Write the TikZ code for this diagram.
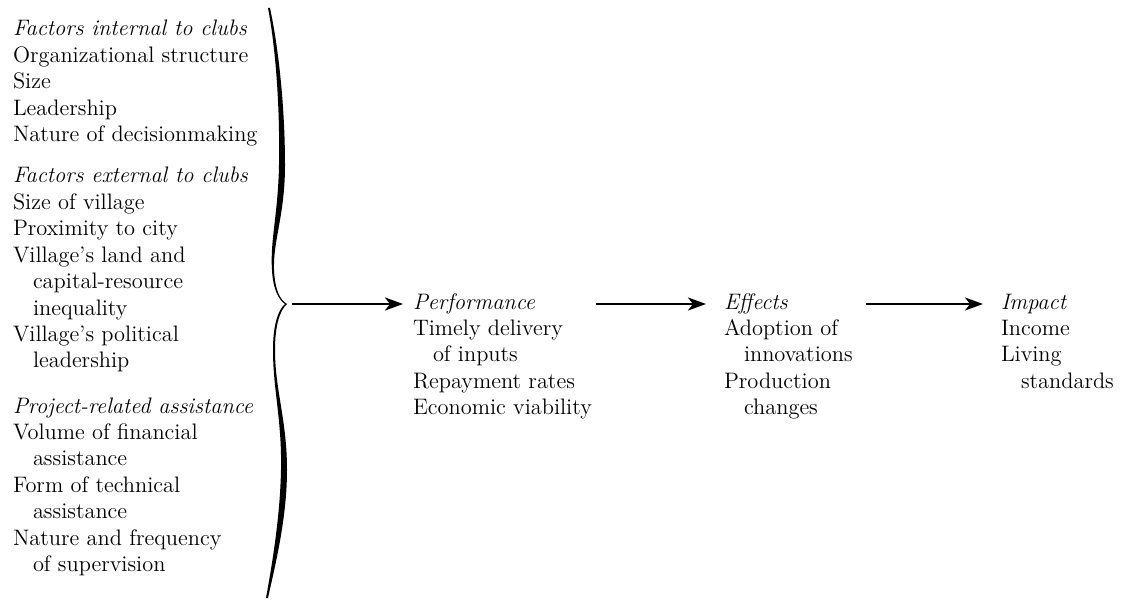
\documentclass[tikz,border=0pt]{standalone}
\usetikzlibrary{arrows.meta}
\tikzset{
    item/.style={
        anchor=base west,
        inner sep=0pt,
        outer sep=0pt,
        font=\fontsize{11.2}{13.2}\selectfont
    },
    head/.style={item,font=\fontsize{11.2}{13.2}\selectfont\itshape},
    flow/.style={line width=1.3pt,-{Stealth[length=9pt,width=6.5pt,inset=2.5pt]}},
    x=0.5pt,
    y=-0.5pt
}

\begin{document}
\begin{tikzpicture}
    \useasboundingbox (0,0) rectangle (1122,604);
    % factors on the left
    \foreach \s/\y/\dx/\t [count=\i] in {
        head/36/0/Factors internal to clubs,
        item/62.4/0/Organizational structure,
        item/88.8/0/Size,
        item/115.2/0/Leadership,
        item/141.6/0/Nature of decisionmaking,
        head/183/0/Factors external to clubs,
        item/209.4/0/Size of village,
        item/235.8/0/Proximity to city,
        item/262.2/0/Village’s land and,
        item/288.6/20/capital-resource,
        item/315/20/inequality,
        item/341.4/0/Village’s political,
        item/367.8/20/leadership,
        head/413/0/Project-related assistance,
        item/439.4/0/Volume of financial,
        item/465.8/20/assistance,
        item/492.2/0/Form of technical,
        item/518.6/20/assistance,
        item/545/0/Nature and frequency,
        item/571.4/20/of supervision
    }
        \node[\s] (f\i) at (13+\dx,\y) {\t};
    % brace
    \fill (268,8) .. controls (276,50) and (280,110) .. (279,165)
        .. controls (278,215) and (270,240) .. (272,270)
        .. controls (273,290) and (279,300) .. (285,304)
        .. controls (278,310) and (273,325) .. (273,350)
        .. controls (273,390) and (282,420) .. (281,470)
        .. controls (280,520) and (271,570) .. (266,598)
        -- (268,598) .. controls (274,570) and (287,520) .. (287,470)
        .. controls (287,420) and (275,390) .. (275,350)
        .. controls (275,325) and (280,310) .. (287,304)
        .. controls (280,300) and (275,290) .. (274,270)
        .. controls (273,240) and (285,215) .. (285,165)
        .. controls (285,110) and (279,50) .. (270,8) -- cycle;
    \coordinate (tip) at (286,304);
    % performance, effects, impact
    \foreach \s/\y/\dx/\t [count=\i] in {
        head/309/0/Performance,
        item/335.4/0/Timely delivery,
        item/361.8/20/of inputs,
        item/388.2/0/Repayment rates,
        item/414.6/0/Economic viability
    }
        \node[\s] (p\i) at (413+\dx,\y) {\t};
    \foreach \s/\y/\dx/\t [count=\i] in {
        head/309/0/Effects,
        item/335.4/0/Adoption of,
        item/361.8/20/innovations,
        item/388.2/0/Production,
        item/414.6/20/changes
    }
        \node[\s] (e\i) at (724+\dx,\y) {\t};
    \foreach \s/\y/\dx/\t [count=\i] in {
        head/309/0/Impact,
        item/335.4/0/Income,
        item/361.8/0/Living,
        item/388.2/20/standards
    }
        \node[\s] (m\i) at (1001+\dx,\y) {\t};
    \coordinate (a2) at (596,304);
    \coordinate (a3) at (866,304);
    \draw[flow,shorten <=3pt,shorten >=5pt] (tip) -- (p1.west |- tip);
    \draw[flow,shorten >=9pt] (a2) -- (e1.west |- a2);
    \draw[flow,shorten >=9pt] (a3) -- (m1.west |- a3);
\end{tikzpicture}
\end{document}
